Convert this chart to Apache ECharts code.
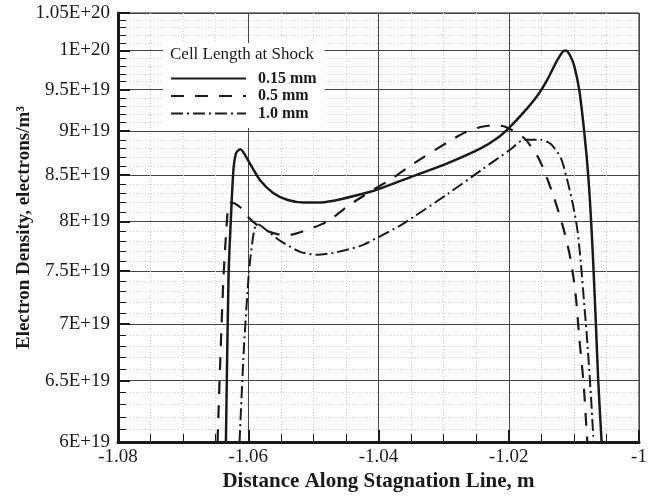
<!DOCTYPE html>
<html>
<head>
<meta charset="utf-8">
<script src="https://cdn.jsdelivr.net/npm/echarts@6/dist/echarts.min.js"></script>
<style>
  html, body { margin: 0; padding: 0; background: #fff; }
  #chart { width: 668px; height: 497px; }
</style>
</head>
<body>
<div id="chart"></div>
<script>
// electron density in units of 1E+19 electrons/m^3, x in m
var cell015 = [
  [-1.06343, 6.0], [-1.06303, 7.44], [-1.06262, 8.1], [-1.06226, 8.57], [-1.06185, 8.75],
  [-1.06123, 8.79], [-1.05969, 8.62], [-1.05815, 8.44], [-1.05611, 8.3], [-1.05405, 8.23],
  [-1.05149, 8.2], [-1.04943, 8.2], [-1.04688, 8.22], [-1.0438, 8.27], [-1.0402, 8.34],
  [-1.03457, 8.49], [-1.02943, 8.63], [-1.02431, 8.8], [-1.02174, 8.92], [-1.01995, 9.04],
  [-1.01765, 9.23], [-1.01558, 9.43], [-1.01405, 9.63], [-1.01277, 9.84], [-1.01174, 9.98],
  [-1.01123, 10.0], [-1.01062, 9.94], [-1.00995, 9.8], [-1.00918, 9.5], [-1.00842, 9.0],
  [-1.0078, 8.5], [-1.00735, 8.0], [-1.00697, 7.5], [-1.00662, 7.0], [-1.00626, 6.5],
  [-1.00574, 6.0]
];
var cell05 = [
  [-1.06472, 6.0], [-1.06422, 6.8], [-1.0638, 7.44], [-1.06338, 7.9], [-1.06303, 8.18],
  [-1.06262, 8.2], [-1.06123, 8.15], [-1.0602, 8.06], [-1.05877, 7.97], [-1.05738, 7.91],
  [-1.05554, 7.87], [-1.05385, 7.86], [-1.05154, 7.9], [-1.04785, 8.0], [-1.04477, 8.16],
  [-1.04123, 8.32], [-1.03815, 8.45], [-1.03457, 8.63], [-1.02943, 8.87], [-1.02688, 8.98],
  [-1.02431, 9.05], [-1.02226, 9.07], [-1.02046, 9.05], [-1.01765, 8.92], [-1.01558, 8.71],
  [-1.01457, 8.55], [-1.01303, 8.25], [-1.01149, 7.9], [-1.01046, 7.6], [-1.00969, 7.25],
  [-1.00918, 6.88], [-1.00851, 6.48], [-1.008, 6.05], [-1.00792, 6.0]
];
var cell10 = [
  [-1.06134, 6.0], [-1.06065, 6.8], [-1.0599, 7.48], [-1.05935, 7.8], [-1.05892, 7.95],
  [-1.05846, 7.97], [-1.05738, 7.92], [-1.05508, 7.8], [-1.052, 7.69], [-1.04943, 7.66],
  [-1.04688, 7.68], [-1.04277, 7.75], [-1.03969, 7.85], [-1.03662, 7.96], [-1.03457, 8.05],
  [-1.02943, 8.29], [-1.02431, 8.55], [-1.01969, 8.79], [-1.01765, 8.9], [-1.01508, 8.9],
  [-1.01354, 8.85], [-1.012, 8.69], [-1.01097, 8.43], [-1.01015, 8.18], [-1.00943, 7.9],
  [-1.00892, 7.57], [-1.00842, 7.19], [-1.00789, 6.8], [-1.00738, 6.37], [-1.00703, 6.05],
  [-1.00697, 6.0]
];

var seriesNames = ['0.15 mm', '0.5 mm', '1.0 mm'];
var yTickValues = [6, 6.5, 7, 7.5, 8, 8.5, 9, 9.5, 10, 10.5];
var yTickLabels = ['6E+19', '6.5E+19', '7E+19', '7.5E+19', '8E+19', '8.5E+19',
                   '9E+19', '9.5E+19', '1E+20', '1.05E+20'];
var xMin = -1.08, xMax = -1, xStep = 0.02;

var font = 'Liberation Serif';
var ink = '#1a1a1a';

// y axis is logarithmic: plot log10 of the value on a plain value axis
var lg = function (v) { return Math.log10(v); };
var toLog = function (arr) { return arr.map(function (p) { return [p[0], lg(p[1])]; }); };

var yMajor = yTickValues.map(lg);
var yMinor = [];
for (var k = 61; k < 105; k++) {
  if (k % 5 !== 0) yMinor.push(lg(k / 10));
}

var myChart = echarts.init(document.getElementById('chart'));

var lineSeries = function (name, data, width, type) {
  return {
    name: name,
    type: 'line',
    data: toLog(data),
    showSymbol: false,
    symbol: 'none',
    smooth: 0.25,
    clip: true,
    z: 5,
    itemStyle: { color: ink },
    lineStyle: { color: ink, width: width, type: type }
  };
};

myChart.setOption({
  animation: false,
  backgroundColor: '#fff',
  title: {
    text: 'Cell Length at Shock',
    left: 170,
    top: 46,
    padding: 0,
    z: 10,
    textStyle: { fontFamily: font, fontSize: 17, fontWeight: 'normal', color: ink }
  },
  legend: {
    data: seriesNames,
    orient: 'vertical',
    left: 163,
    top: 43,
    padding: [27, 8, 6, 7],
    itemWidth: 75,
    itemHeight: 14,
    itemGap: 0.5,
    backgroundColor: '#fff',
    z: 8,
    itemStyle: { color: 'rgba(0,0,0,0)', borderWidth: 0, opacity: 0 },
    textStyle: {
      fontFamily: font, fontSize: 16, fontWeight: 'bold', color: ink,
      lineHeight: 17, padding: [0, 0, 0, 7]
    }
  },
  grid: {
    left: 118, right: 29, top: 13, bottom: 51,
    show: true, borderColor: ink, borderWidth: 1
  },
  xAxis: {
    type: 'value',
    min: xMin, max: xMax, interval: xStep,
    name: 'Distance Along Stagnation Line, m',
    nameLocation: 'middle',
    nameGap: 21,
    nameTextStyle: { fontFamily: font, fontSize: 21, fontWeight: 'bold', color: ink },
    axisLine: { lineStyle: { color: ink, width: 3 } },
    axisTick: { inside: true, length: 12, lineStyle: { color: ink, width: 2 } },
    minorTick: { show: true, splitNumber: 4, length: 8, lineStyle: { color: ink, width: 1 } },
    splitLine: { lineStyle: { color: '#444', width: 1 } },
    minorSplitLine: { show: true, lineStyle: { color: '#d0d0d0', width: 1, type: [1, 2] } },
    axisLabel: {
      margin: 5,
      fontFamily: font, fontSize: 19, color: ink,
      formatter: function (v) { return String(Number(v.toFixed(2))); }
    }
  },
  yAxis: [{
    type: 'value',
    min: lg(6), max: lg(10.5),
    name: 'Electron Density, electrons/m³',
    nameLocation: 'middle',
    nameGap: 84,
    nameMoveOverlap: false,
    nameTextStyle: { fontFamily: font, fontSize: 19, fontWeight: 'bold', color: ink },
    axisLine: { show: true, lineStyle: { color: ink, width: 3 } },
    axisTick: { inside: true, length: 12, customValues: yMajor, lineStyle: { color: ink, width: 2 } },
    splitLine: { show: true, lineStyle: { color: '#444', width: 1 } },
    axisLabel: {
      customValues: yMajor,
      margin: 8,
      fontFamily: font, fontSize: 19, color: ink,
      formatter: function (v) {
        for (var i = 0; i < yMajor.length; i++) {
          if (Math.abs(yMajor[i] - v) < 1e-9) return yTickLabels[i];
        }
        return '';
      }
    }
  }, {
    type: 'value',
    position: 'left',
    min: lg(6), max: lg(10.5),
    axisLine: { show: false },
    axisLabel: { show: false },
    axisTick: { show: true, inside: true, length: 8, customValues: yMinor, lineStyle: { color: ink, width: 1 } },
    splitLine: { show: true, lineStyle: { color: '#d0d0d0', width: 1, type: [1, 2] } }
  }],
  series: [
    lineSeries(seriesNames[0], cell015, 2.5, 'solid'),
    lineSeries(seriesNames[1], cell05, 2.2, [13, 11]),
    lineSeries(seriesNames[2], cell10, 2, [12, 4, 2, 4])
  ]
});
</script>
</body>
</html>
